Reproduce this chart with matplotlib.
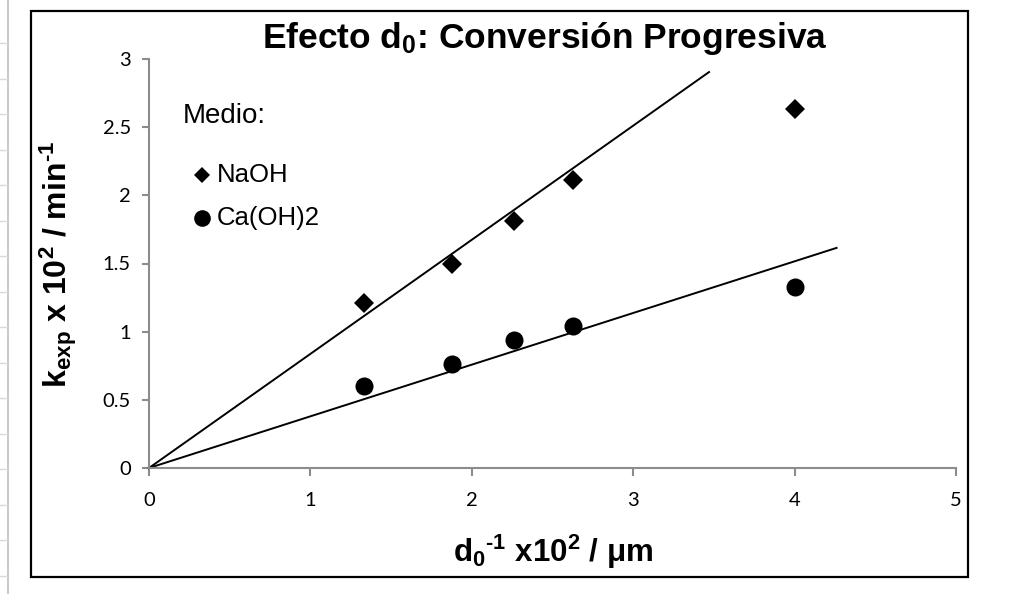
import matplotlib
matplotlib.use("Agg")
import matplotlib.pyplot as plt
from matplotlib.lines import Line2D
from matplotlib.patches import Rectangle
import numpy as np

# Inverse particle size (d0^-1 x 10^2, 1/um)
inv_d0 = [1.33, 1.88, 2.26, 2.63, 4.00]
# Apparent rate constants (k_exp x 10^2, 1/min)
k_naoh = [1.21, 1.50, 1.81, 2.11, 2.63]
k_caoh2 = [0.60, 0.76, 0.94, 1.04, 1.33]

# Linear fits forced through the origin: slope and last x of each line
fit_naoh = {"slope": 0.837, "x_end": 3.47}
fit_caoh2 = {"slope": 0.379, "x_end": 4.26}

series_names = ["NaOH", "Ca(OH)2"]
legend_title = "Medio:"
x_ticks = [0, 1, 2, 3, 4, 5]
y_ticks = [0, 0.5, 1, 1.5, 2, 2.5, 3]
y_tick_labels = ["0", "0.5", "1", "1.5", "2", "2.5", "3"]

plt.rcParams["font.family"] = ["Liberation Sans", "DejaVu Sans"]
plt.rcParams["mathtext.fontset"] = "custom"
# every math string in this figure is bold
plt.rcParams["mathtext.rm"] = "Liberation Sans:bold"
plt.rcParams["mathtext.bf"] = "Liberation Sans:bold"
plt.rcParams["mathtext.default"] = "bf"

W, H = 1021, 594
fig = plt.figure(figsize=(W / 100, H / 100), dpi=100)
fig.patch.set_facecolor("white")


def fx(px):
    return px / W


def fy(py):
    return 1 - py / H


# worksheet gridlines peeking out at the left edge
fig.add_artist(Line2D([fx(8), fx(8)], [0, 1], color="#bfbfbf", lw=1.2,
                      transform=fig.transFigure))
for k in range(16):
    yy = 43 + 35.5 * k
    fig.add_artist(Line2D([0, fx(8)], [fy(yy), fy(yy)], color="#d9d9d9",
                          lw=1.0, transform=fig.transFigure))

# chart frame
fig.add_artist(Rectangle((fx(31), fy(577)), fx(968) - fx(31), fy(11) - fy(577),
                         fill=False, ec="black", lw=1.6,
                         transform=fig.transFigure))

ax = fig.add_axes([fx(149), fy(468), fx(956) - fx(149), fy(59) - fy(468)])
ax.set_facecolor("none")

x_arr = np.array(inv_d0)
ax.plot(x_arr, k_naoh, linestyle="none", marker="D", markersize=10,
        color="black", mew=0, clip_on=False, zorder=3)
ax.plot(x_arr, k_caoh2, linestyle="none", marker="o", markersize=13,
        color="black", mew=0, clip_on=False, zorder=3)

for fit in (fit_naoh, fit_caoh2):
    xs = np.array([0.0, fit["x_end"]])
    ax.plot(xs, fit["slope"] * xs, color="black", lw=1.4, clip_on=False,
            zorder=2)

ax.set_xlim(0, 5)
ax.set_ylim(0, 3)
ax.set_xticks(x_ticks)
ax.set_xticklabels([str(t) for t in x_ticks])
ax.set_yticks(y_ticks)
ax.set_yticklabels(y_tick_labels)

for side in ("top", "right"):
    ax.spines[side].set_visible(False)
for side in ("left", "bottom"):
    ax.spines[side].set_color("#8c8c8c")
    ax.spines[side].set_linewidth(1.5)

ax.tick_params(axis="both", direction="out", color="#8c8c8c", width=1.5,
               labelcolor="black")
ax.tick_params(axis="x", length=6, pad=11)
ax.tick_params(axis="y", length=5, pad=8)
for lab in ax.get_xticklabels() + ax.get_yticklabels():
    lab.set_fontfamily(["Lato", "DejaVu Sans"])
    lab.set_fontsize(14.5)

# titles
fig.text(fx(545), fy(48), r"Efecto d$_0$: Conversión Progresiva",
         ha="center", va="baseline", fontsize=25.5, fontweight="bold")
fig.text(fx(553), fy(562), r"d$_0$$^{\text{-1}}$ x10$^2$ / μm",
         ha="center", va="baseline", fontsize=22.5, fontweight="bold")
fig.text(fx(58), fy(264), r"k$_{exp}$ x 10$^2$ / min$^{\text{-1}}$",
         ha="center", va="center", rotation=90, fontsize=23,
         fontweight="bold")

# legend
fig.text(fx(183), fy(116), legend_title, ha="left", va="center",
         fontsize=20)
legend_rows = [(series_names[0], "D", 8, 175), (series_names[1], "o", 12, 218)]
for name, mk, ms, yy in legend_rows:
    fig.add_artist(Line2D([fx(202)], [fy(yy)], marker=mk, markersize=ms,
                          color="black", mew=0, linestyle="none",
                          transform=fig.transFigure))
    fig.text(fx(217), fy(yy), name, ha="left", va="center", fontsize=18.5)

fig.savefig("out.png", dpi=100, facecolor="white")
